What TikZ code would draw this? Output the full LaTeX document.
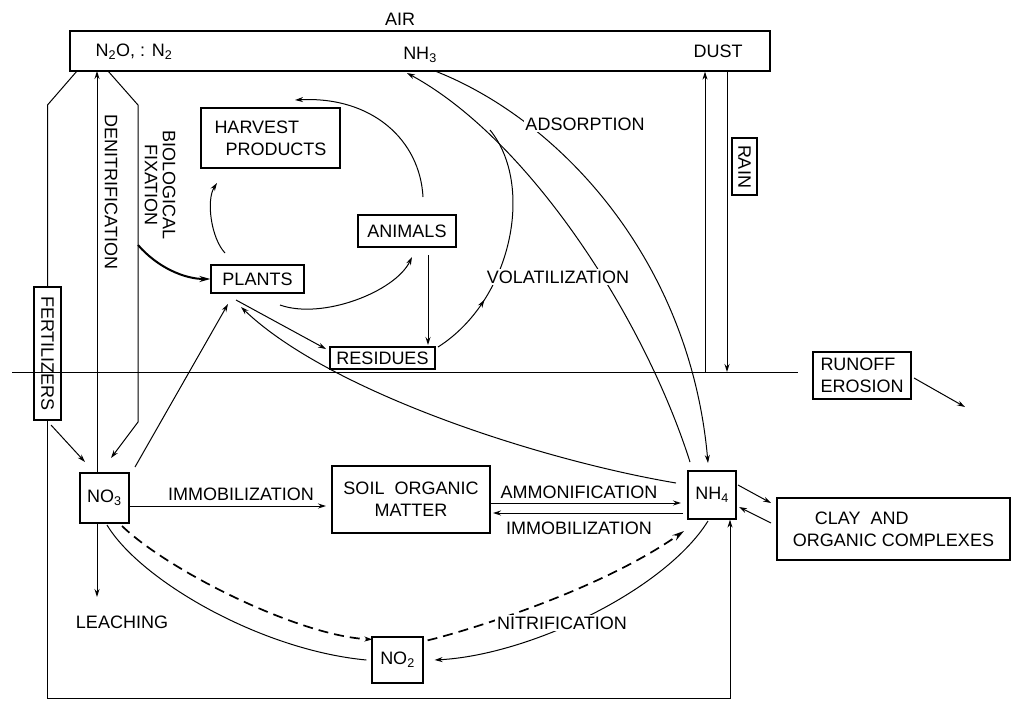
\documentclass[tikz,border=0pt]{standalone}
\usepackage{fontspec}
\setmainfont{Liberation Sans}
\usetikzlibrary{arrows.meta,decorations.markings}
\begin{document}
\begin{tikzpicture}[x=1pt,y=-1pt,
  font=\fontsize{18}{22}\selectfont,
  line width=1pt,
  box/.style={draw,line width=1.2pt,inner sep=0pt},
  arr/.style={-{Stealth[length=8pt,width=5pt]}},
  bigarr/.style={-{Stealth[length=12pt,width=6.5pt]}},
  dsh/.style={line width=1.7pt,dash pattern=on 10pt off 6pt},
  lbl/.style={inner sep=1.5pt},
  cut/.style={fill=white,inner sep=2pt},
  midarr/.style={postaction={decorate,decoration={markings,
     mark=at position #1 with {\arrow{Stealth[length=8pt,width=5pt]}}}}}]
\useasboundingbox (0,0) rectangle (1020,702);

% ---------- boxes ----------
\node[box,minimum width=700pt,minimum height=40pt] (air) at (420,51) {};
\node[box,minimum width=139pt,minimum height=60pt,align=left] (harvest) at (270.5,138) {HARVEST\\\hspace*{11pt}PRODUCTS};
\node[box,minimum width=93pt,minimum height=28pt] (plants) at (257.5,279) {PLANTS};
\node[box,minimum width=98pt,minimum height=32pt] (animals) at (407,231) {ANIMALS};
\node[box,minimum width=105pt,minimum height=22pt] (residues) at (382.5,358) {RESIDUES};
\node[box,minimum width=98pt,minimum height=47pt,align=left] (runoff) at (862,375.5) {RUNOFF\\EROSION};
\node[box,minimum width=49pt,minimum height=50pt] (no3) at (104.5,498) {NO\textsubscript{3}};
\node[box,minimum width=158pt,minimum height=67pt,align=center] (som) at (411,499.5) {SOIL\ \ ORGANIC\\MATTER};
\node[box,minimum width=48pt,minimum height=48pt] (nh4) at (712,495) {NH\textsubscript{4}};
\node[box,minimum width=233pt,minimum height=62pt,align=left] (clay) at (893.5,529) {\hspace*{22pt}CLAY\ \ AND\\ORGANIC COMPLEXES};
\node[box,minimum width=51pt,minimum height=46pt] (no2) at (397.5,660) {NO\textsubscript{2}};
\node[box,rotate=-90,minimum width=133pt,minimum height=27pt] (fert) at (47.5,353.5) {FERTILIZERS};
\node[box,rotate=-90,minimum width=57pt,minimum height=25pt] (rain) at (744.5,166.5) {RAIN};

% ---------- texts in the air box ----------
\node[lbl] (airlbl) at (400,19) {AIR};
\node[lbl] (n2o) at (134,52) {N\textsubscript{2}O, : N\textsubscript{2}};
\node[lbl] (nh3) at (420,55) {NH\textsubscript{3}};
\node[lbl] (dust) at (718,51) {DUST};

% ---------- coordinates ----------
\coordinate (ol0) at (77,71);
\coordinate (ol1) at (47.5,105);
\coordinate (ol2) at (47.5,698);
\coordinate (ol3) at (730,698);
\coordinate (den) at (97,71);
\coordinate (leachend) at (97,597);
\coordinate (ir0) at (108,71);
\coordinate (ir1) at (138,105);
\coordinate (ir2) at (138,422);
\coordinate (ir3) at (111,458);
\coordinate (fa) at (51,425);
\coordinate (fb) at (85,462);
\coordinate (bf0) at (138,245);
\coordinate (np0) at (135,467);
\coordinate (np1) at (228,304);
\coordinate (pr0) at (236,300);
\coordinate (pr1) at (326,349);
\coordinate (pl1) at (241,307);
\coordinate (nh4a) at (676,483);
\coordinate (ph0) at (225,253);
\coordinate (ph1) at (217,183);
\coordinate (ah0) at (423,197);
\coordinate (ah1) at (295,100);
\coordinate (pa0) at (280,305);
\coordinate (pa1) at (412,257);
\coordinate (ar0) at (428,255);
\coordinate (ar1) at (428,345);
\coordinate (rv0) at (438,347);
\coordinate (rv1) at (490,130);
\coordinate (nv0) at (690,462);
\coordinate (nv1) at (407,73);
\coordinate (ad0) at (435,71);
\coordinate (ad1) at (708,463);
\coordinate (du0) at (705,372);
\coordinate (ra1) at (727,372);
\coordinate (s0) at (12,372);
\coordinate (s1) at (798,372);
\coordinate (ru0) at (914,378);
\coordinate (ru1) at (965,407);
\coordinate (im1) at (326,506);
\coordinate (am1) at (681,503);
\coordinate (im2) at (683,513);
\coordinate (im3) at (493,513);
\coordinate (cl0) at (738,485);
\coordinate (cl1) at (771,503);
\coordinate (cl2) at (771,523);
\coordinate (cl3) at (739,507);
\coordinate (nn0) at (708,521);
\coordinate (dn1) at (684,531);
\coordinate (dd0) at (122,526);
\coordinate (sn0) at (107,525);

% ---------- soil surface ----------
\draw (s0) -- (s1);

% ---------- left outer loop (fertilizers) ----------
\draw (ol0) -- (ol1) -- (fert.west);
\draw[arr] (fert.east) -- (ol2) -- (ol3) -- (ol3 |- nh4.south);
\draw[arr] (fa) -- (fb);

% ---------- denitrification / leaching ----------
\draw[arr] (no3.north -| den) -- (den);
\draw[arr] (no3.south -| leachend) -- (leachend);

% ---------- inner N2 path ----------
\draw[arr] (ir0) -- (ir1) -- (ir2) -- (ir3);

% ---------- biological fixation ----------
\draw[-{Stealth[length=11pt,width=6pt]},line width=2pt] (bf0) .. controls (158,268) and (185,279) .. (plants.west);

% ---------- plant / animal cycle ----------
\draw[arr] (ph0) .. controls (211,238) and (206,200) .. (ph1);
\draw[arr] (ah0) .. controls (420,140) and (372,96) .. (ah1);
\draw[arr] (pa0) .. controls (322,320) and (395,292) .. (pa1);
\draw[arr] (ar0) -- (ar1);
\draw[arr] (np0) -- (np1);
\draw[arr] (pr0) -- (pr1);
\draw[arr] (nh4a) .. controls (540,460) and (330,392) .. (pl1);

% ---------- volatilization / adsorption ----------
\draw[midarr=0.27] (rv0) .. controls (512,300) and (535,185) .. (rv1);
\draw[arr] (nv0) .. controls (645,320) and (530,140) .. (nv1);
\draw[arr] (ad0) .. controls (560,120) and (690,260) .. (ad1);

% ---------- dust / rain ----------
\draw[arr] (du0) -- (du0 |- air.south);
\draw[arr] (ra1 |- air.south) -- (ra1);

% ---------- runoff ----------
\draw[arr] (ru0) -- (ru1);

% ---------- soil organic matter exchanges ----------
\draw[arr] ([yshift=-8pt]no3.east) -- (im1);
\draw[arr] ([yshift=-3.5pt]som.east) -- (am1);
\draw[arr] (im2) -- (im3);

% ---------- clay complexes ----------
\draw[arr] (cl0) -- (cl1);
\draw[arr] (cl2) -- (cl3);

% ---------- nitrification loop ----------
\draw[arr] (nn0) .. controls (665,590) and (530,655) .. ([xshift=11pt]no2.east);
\draw (sn0) .. controls (140,580) and (260,650) .. ([xshift=-5pt]no2.west);
\draw[dsh,arr] (dd0) .. controls (170,572) and (300,636) .. ([shift={(1,3)}]no2.north west);
\draw[dsh,bigarr] ([shift={(4,4)}]no2.north east) .. controls (470,630) and (600,590) .. (dn1);

% ---------- labels ----------
\node[rotate=-90,lbl] (denit) at (111,192) {DENITRIFICATION};
\node[rotate=-90,align=center,lbl,font=\fontsize{18}{18}\selectfont] (biofix) at (160,185) {BIOLOGICAL\\FIXATION};
\node[cut] (adsorp) at (585,124) {ADSORPTION};
\node[cut] (volat) at (558,277) {VOLATILIZATION};
\node[lbl] (immo1) at (241,494) {IMMOBILIZATION};
\node[lbl] (ammon) at (579,492) {AMMONIFICATION};
\node[lbl] (immo2) at (579,528) {IMMOBILIZATION};
\node[cut] (nitri) at (562,623) {NITRIFICATION};
\node[lbl] (leach) at (122,622) {LEACHING};
\end{tikzpicture}
\end{document}
